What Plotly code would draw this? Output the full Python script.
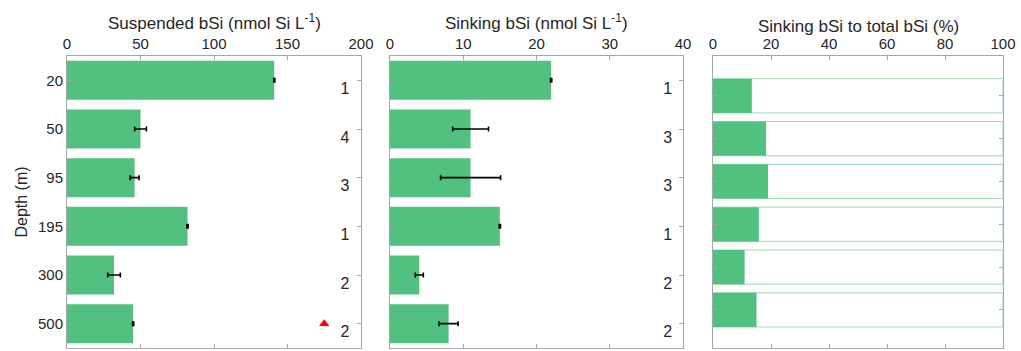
import plotly.graph_objects as go

# ---- data ----
depths = ["20", "50", "95", "195", "300", "500"]
susp = [141, 50, 46, 82, 32, 45]
susp_err = [0.4, 4.0, 3.0, 0.4, 4.3, 0.4]
sink = [22, 11, 11, 15, 4, 8]
sink_err = [0.08, 2.45, 4.1, 0.08, 0.55, 1.3]
n_susp = ["1", "4", "3", "1", "2", "2"]
n_sink = ["1", "3", "3", "1", "2", "2"]
ratio = [13.4, 18.3, 19.0, 15.8, 10.9, 15.0]
total = [100, 100, 100, 100, 100, 100]
flag_value = [175]
flag_depth = ["500"]

ypos = list(range(len(depths)))
flag_y = [depths.index(d) for d in flag_depth]

GREEN = "rgb(82,193,128)"
LIGHT = "rgb(160,218,180)"
TXT = "#262626"
AX = "#a6a6a6"
FONT = "Liberation Sans, Arial, sans-serif"
W, H = 1021, 351

def px_x(p):
    return p / W

def px_y(p):
    return 1 - p / H

fig = go.Figure()

# panel 1: suspended
fig.add_trace(go.Bar(
    x=susp, y=ypos, orientation="h", width=0.8,
    marker=dict(color=GREEN, line=dict(width=0)),
    error_x=dict(type="data", array=susp_err, color="black", thickness=1.6, width=2.5),
    xaxis="x", yaxis="y", showlegend=False))
fig.add_trace(go.Scatter(
    x=[189] * len(ypos), y=[v + 0.2 for v in ypos], mode="text", text=n_susp,
    textfont=dict(size=16, color=TXT, family=FONT),
    xaxis="x", yaxis="y", showlegend=False))
fig.add_trace(go.Scatter(
    x=flag_value, y=flag_y, mode="markers",
    marker=dict(symbol="triangle-up", color="red", size=9),
    xaxis="x", yaxis="y", showlegend=False))

# panel 2: sinking
fig.add_trace(go.Bar(
    x=sink, y=ypos, orientation="h", width=0.8,
    marker=dict(color=GREEN, line=dict(width=0)),
    error_x=dict(type="data", array=sink_err, color="black", thickness=1.6, width=2.5),
    xaxis="x2", yaxis="y2", showlegend=False))
fig.add_trace(go.Scatter(
    x=[37.9] * len(ypos), y=[v + 0.2 for v in ypos], mode="text", text=n_sink,
    textfont=dict(size=16, color=TXT, family=FONT),
    xaxis="x2", yaxis="y2", showlegend=False))

# panel 3: ratio
fig.add_trace(go.Bar(
    x=total, y=ypos, orientation="h", width=0.8,
    marker=dict(color="white", line=dict(width=1, color=LIGHT)),
    xaxis="x3", yaxis="y3", showlegend=False))
fig.add_trace(go.Bar(
    x=ratio, y=ypos, orientation="h", width=0.8,
    marker=dict(color=GREEN, line=dict(width=0)),
    xaxis="x3", yaxis="y3", showlegend=False))

common_x = dict(side="top", ticks="inside", ticklen=4, tickcolor=AX, showline=True,
                linecolor=AX, linewidth=1, mirror="allticks", showgrid=False, zeroline=False,
                automargin=False, tickfont=dict(size=15, color=TXT, family=FONT))
common_y = dict(ticks="inside", ticklen=4, tickcolor=AX, showline=True, linecolor=AX,
                linewidth=1, mirror="allticks", showgrid=False, zeroline=False,
                automargin=False, tickfont=dict(size=15, color=TXT, family=FONT))
ydom = [px_y(348), px_y(56)]

fig.update_layout(
    width=W, height=H, margin=dict(l=0, r=0, t=0, b=0),
    paper_bgcolor="white", plot_bgcolor="white", barmode="overlay",
    font=dict(family=FONT, color=TXT),
    xaxis=dict(domain=[px_x(67), px_x(361)], range=[0, 200], tickvals=[0, 50, 100, 150, 200],
               anchor="y", **common_x),
    yaxis=dict(domain=ydom, range=[5.5, -0.5], tickvals=ypos, ticktext=depths, anchor="x",
               title=dict(text="Depth (m)", font=dict(size=16, color=TXT), standoff=6),
               **common_y),
    xaxis2=dict(domain=[px_x(390), px_x(683)], range=[0, 40], tickvals=[0, 10, 20, 30, 40],
                anchor="y2", **common_x),
    yaxis2=dict(domain=ydom, range=[5.5, -0.5], tickvals=ypos, showticklabels=False,
                anchor="x2", **common_y),
    xaxis3=dict(domain=[px_x(713), px_x(1003)], range=[0, 100],
                tickvals=[0, 20, 40, 60, 80, 100], anchor="y3", **common_x),
    yaxis3=dict(domain=ydom, range=[5.89, -0.93], tickvals=ypos, showticklabels=False,
                anchor="x3", **common_y),
    annotations=[
        dict(text="Suspended bSi (nmol Si L<sup>-1</sup>)", x=px_x(214), y=px_y(22),
             xref="paper", yref="paper", showarrow=False, xanchor="center", yanchor="middle",
             font=dict(size=17, color=TXT, family=FONT)),
        dict(text="Sinking bSi (nmol Si L<sup>-1</sup>)", x=px_x(536.5), y=px_y(22),
             xref="paper", yref="paper", showarrow=False, xanchor="center", yanchor="middle",
             font=dict(size=17, color=TXT, family=FONT)),
        dict(text="Sinking bSi to total bSi (%)", x=px_x(858), y=px_y(26),
             xref="paper", yref="paper", showarrow=False, xanchor="center", yanchor="middle",
             font=dict(size=17, color=TXT, family=FONT)),
    ],
)

fig.write_html("out.html")
